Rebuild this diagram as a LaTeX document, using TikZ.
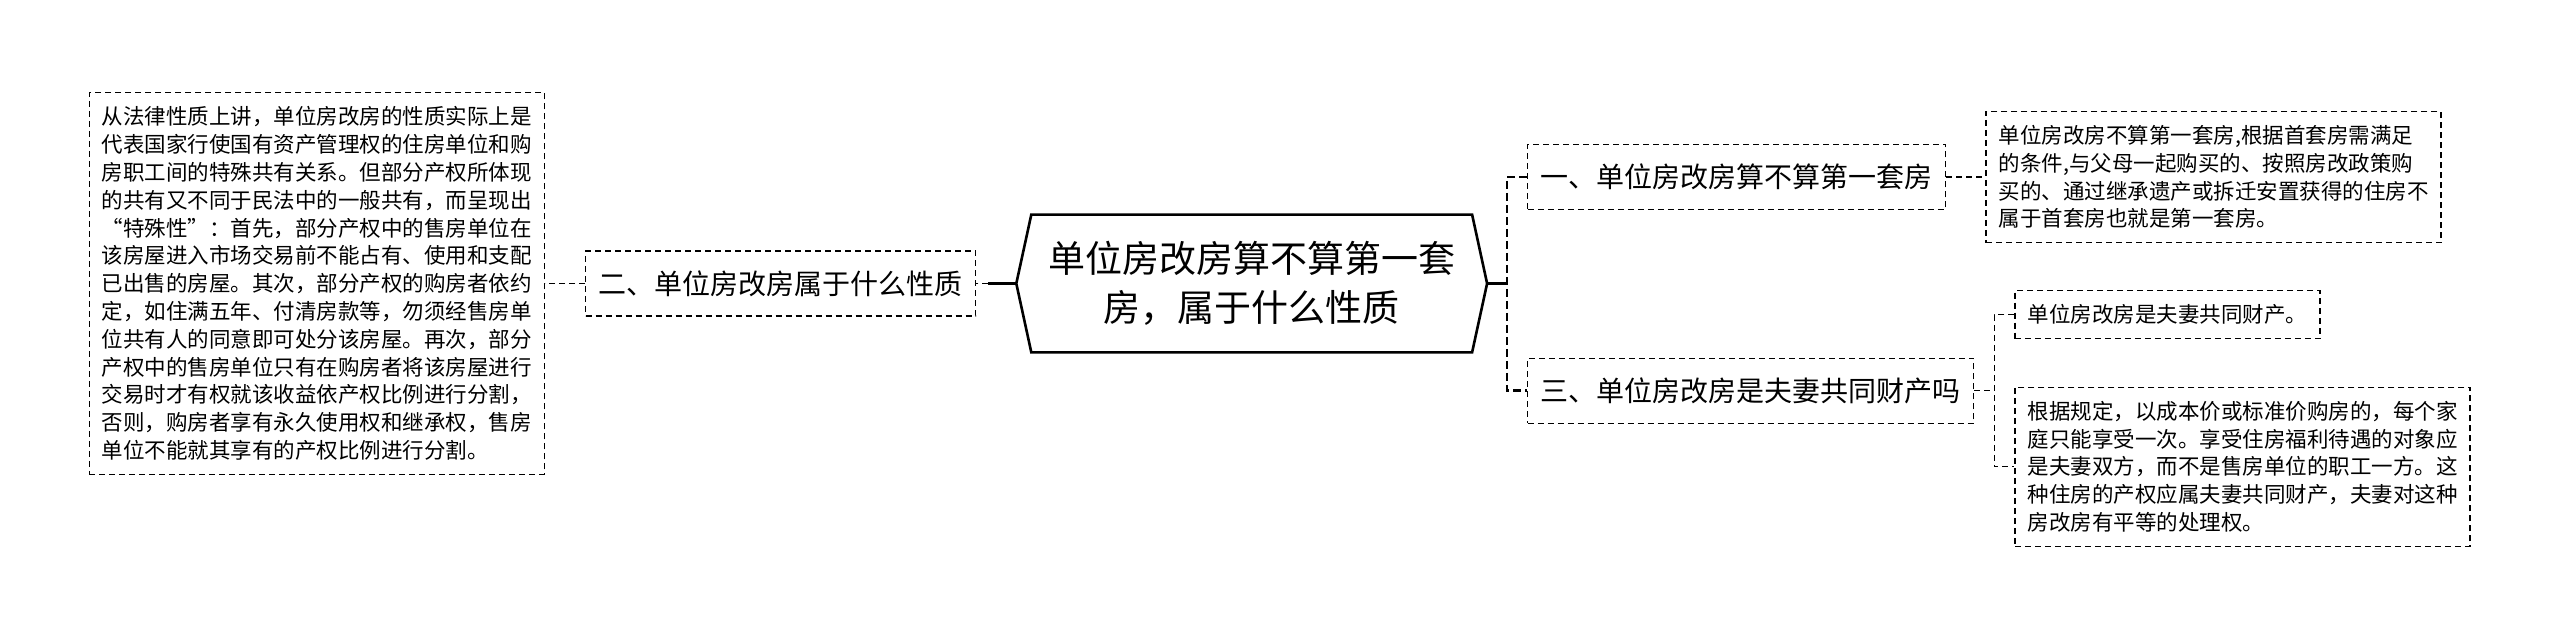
\documentclass[tikz,border=0pt]{standalone}
\usepackage{fontspec}
\setmainfont{Noto Sans CJK SC}
\usepackage{xcolor}
\usepackage{tikz}
\usetikzlibrary{positioning}

\begin{document}
\begin{tikzpicture}[
  hub/.style={minimum width=220pt, minimum height=68.5pt, inner sep=0pt, align=center, font=\fontsize{18.5}{24.5}\selectfont},
  branch/.style={draw, dash pattern=on 3pt off 2pt, line width=0.65pt, inner xsep=6.5pt, minimum height=32.5pt, font=\fontsize{14}{17}\selectfont},
  leaf/.style={draw, dash pattern=on 3pt off 2pt, line width=0.65pt, inner xsep=6.25pt, inner ysep=7pt, text width=215pt, align=left, font=\fontsize{10.75}{13.9}\selectfont},
  link/.style={dash pattern=on 3pt off 2pt, line width=0.65pt},
  trunk/.style={dash pattern=on 4pt off 2pt, line width=1.3pt},
  stem/.style={line width=1.3pt}
]
\useasboundingbox (0pt,0pt) rectangle (1280pt,320pt);
\node[hub] (house) at (625.85pt,178.25pt) {单位房改房算不算第一套\\房，属于什么性质};
\coordinate (hl) at ([xshift=-7.5pt]house.west);
\coordinate (hr) at ([xshift=7.5pt]house.east);
\draw[stem] (hl) -- (house.north west) -- (house.north east) -- (hr) -- (house.south east) -- (house.south west) -- cycle;

\node[branch, left=27.5pt of house] (nature) {二、单位房改房属于什么性质};
\node[leaf, left=20pt of nature] (naturenote) {从法律性质上讲，单位房改房的性质实际上是\\代表国家行使国有资产管理权的住房单位和购\\房职工间的特殊共有关系。但部分产权所体现\\的共有又不同于民法中的一般共有，而呈现出\\“特殊性”：首先，部分产权中的售房单位在\\该房屋进入市场交易前不能占有、使用和支配\\已出售的房屋。其次，部分产权的购房者依约\\定，如住满五年、付清房款等，勿须经售房单\\位共有人的同意即可处分该房屋。再次，部分\\产权中的售房单位只有在购房者将该房屋进行\\交易时才有权就该收益依产权比例进行分割，\\否则，购房者享有永久使用权和继承权，售房\\单位不能就其享有的产权比例进行分割。};

\node[branch, right=27.5pt of house, yshift=53.25pt] (first) {一、单位房改房算不算第一套房};
\node[leaf, right=19.5pt of first] (firstnote) {单位房改房不算第一套房,根据首套房需满足\\的条件,与父母一起购买的、按照房改政策购\\买的、通过继承遗产或拆迁安置获得的住房不\\属于首套房也就是第一套房。};

\node[branch, right=27.5pt of house, yshift=-53.65pt] (common) {三、单位房改房是夫妻共同财产吗};
\node[leaf, text width=140pt, right=20pt of common, yshift=38pt] (commonshort) {单位房改房是夫妻共同财产。};
\node[leaf, right=20pt of common, yshift=-38pt] (commonlong) {根据规定，以成本价或标准价购房的，每个家\\庭只能享受一次。享受住房福利待遇的对象应\\是夫妻双方，而不是售房单位的职工一方。这\\种住房的产权应属夫妻共同财产，夫妻对这种\\房改房有平等的处理权。};

% connectors
\coordinate (lj) at ([xshift=-14pt]hl);
\coordinate (rj) at ([xshift=10pt]hr);
\coordinate (cj) at ([xshift=10pt]common.east);
\draw[stem] (hl) -- (lj);
\draw[link] (lj) -- (nature.east);
\draw[link] (nature.west) -- (naturenote.east);
\draw[stem] (hr) -- (rj);
\draw[trunk] (first.west) -| (rj) |- (common.west);
\draw[link] (first.east) -- (firstnote.west);
\draw[link] (common.east) -- (cj);
\draw[link] (commonshort.west) -| (cj) |- (commonlong.west);
\end{tikzpicture}
\end{document}
